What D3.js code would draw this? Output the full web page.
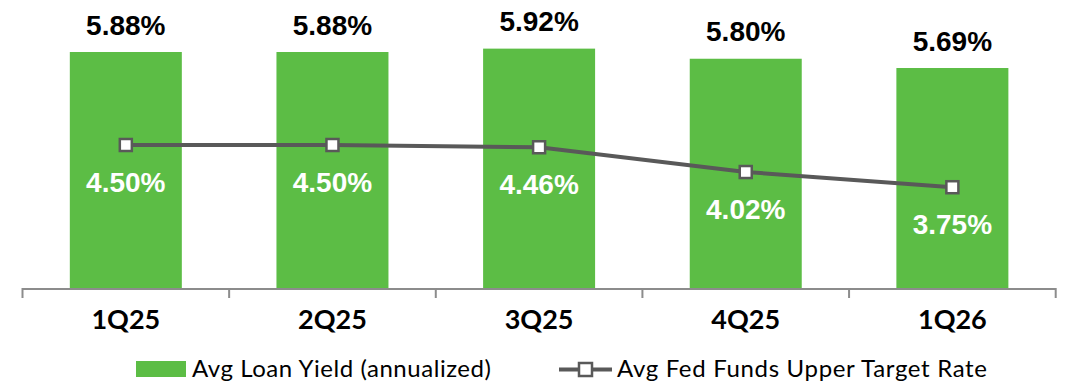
<!DOCTYPE html>
<html>
<head>
<meta charset="utf-8">
<script src="https://cdn.jsdelivr.net/npm/d3@7/dist/d3.min.js"></script>
<style>
  html, body { margin: 0; padding: 0; background: #ffffff; }
  svg { display: block; }
</style>
</head>
<body>
<svg id="chart" width="1071" height="384"></svg>
<script>
// Quarterly data
const quarters = ["1Q25", "2Q25", "3Q25", "4Q25", "1Q26"];
const loanYield = [5.88, 5.88, 5.92, 5.80, 5.69];      // Avg Loan Yield (annualized), %
const fedFunds = [4.50, 4.50, 4.46, 4.02, 3.75];       // Avg Fed Funds Upper Target Rate, %
const seriesNames = ["Avg Loan Yield (annualized)", "Avg Fed Funds Upper Target Rate"];

const svg = d3.select("#chart");
const green = "#5cbd45";
const gray = "#595959";
const axisGray = "#8c8c8c";

const x0 = 22.5, x1 = 1055.7, baseY = 288;
const pInner = 0.458;
const x = d3.scaleBand().domain(quarters).range([x0, x1])
  .paddingInner(pInner).paddingOuter(pInner / 2);

// Two value axes (bars and line use separate, hidden scales)
const yBar = d3.scaleLinear().domain([3.08, 5.88]).range([baseY, 52]);
const yLine = d3.scaleLinear().domain([1.96, 4.50]).range([baseY, 145]);

const fmt = v => v.toFixed(2) + "%";

// Bars
svg.append("g").selectAll("rect").data(quarters).join("rect")
  .attr("x", d => x(d))
  .attr("width", x.bandwidth())
  .attr("y", (d, i) => yBar(loanYield[i]))
  .attr("height", (d, i) => baseY - yBar(loanYield[i]))
  .attr("fill", green);

// Bar value labels
svg.append("g").selectAll("text").data(quarters).join("text")
  .attr("x", d => x(d) + x.bandwidth() / 2)
  .attr("y", (d, i) => yBar(loanYield[i]) - 17.5)
  .attr("text-anchor", "middle")
  .attr("font-family", "'Liberation Sans', Arial, sans-serif")
  .attr("font-weight", "bold")
  .attr("font-size", 28)
  .attr("fill", "#000")
  .text((d, i) => fmt(loanYield[i]));

// Category axis
const step = x.step();
const tickXs = quarters.map(d => x(d) - step * pInner / 2).concat([x1]);
const axis = svg.append("g");
axis.append("line")
  .attr("x1", x0).attr("x2", x1).attr("y1", baseY + 1).attr("y2", baseY + 1)
  .attr("stroke", axisGray).attr("stroke-width", 2);
axis.selectAll("line.tick").data(tickXs).join("line")
  .attr("class", "tick")
  .attr("x1", d => d).attr("x2", d => d)
  .attr("y1", baseY).attr("y2", baseY + 10)
  .attr("stroke", axisGray).attr("stroke-width", 2);
axis.selectAll("text").data(quarters).join("text")
  .attr("x", d => x(d) + x.bandwidth() / 2)
  .attr("y", 329)
  .attr("text-anchor", "middle")
  .attr("font-family", "Lato, 'Open Sans', sans-serif")
  .attr("font-weight", "bold")
  .attr("font-size", 27)
  .attr("fill", "#000")
  .text(d => d);

// Line series
const line = d3.line()
  .x((d, i) => x(quarters[i]) + x.bandwidth() / 2)
  .y(d => yLine(d));
svg.append("path").datum(fedFunds)
  .attr("d", line)
  .attr("fill", "none")
  .attr("stroke", gray)
  .attr("stroke-width", 4);

const ms = 12;
svg.append("g").selectAll("rect").data(fedFunds).join("rect")
  .attr("x", (d, i) => x(quarters[i]) + x.bandwidth() / 2 - ms / 2)
  .attr("y", d => yLine(d) - ms / 2)
  .attr("width", ms).attr("height", ms)
  .attr("fill", "#fff")
  .attr("stroke", gray)
  .attr("stroke-width", 2.5);

svg.append("g").selectAll("text").data(fedFunds).join("text")
  .attr("x", (d, i) => x(quarters[i]) + x.bandwidth() / 2)
  .attr("y", d => yLine(d) + 47)
  .attr("text-anchor", "middle")
  .attr("font-family", "'Liberation Sans', Arial, sans-serif")
  .attr("font-weight", "bold")
  .attr("font-size", 28)
  .attr("fill", "#fff")
  .text(d => fmt(d));

// Legend
const legend = svg.append("g")
  .attr("font-family", "Lato, 'Open Sans', sans-serif")
  .attr("font-size", 24)
  .attr("fill", "#000");
legend.append("rect")
  .attr("x", 136).attr("y", 361).attr("width", 50).attr("height", 16)
  .attr("fill", green);
legend.append("text").attr("x", 192).attr("y", 377)
  .attr("textLength", 299).attr("lengthAdjust", "spacing")
  .text(seriesNames[0]);
legend.append("line")
  .attr("x1", 559).attr("x2", 612).attr("y1", 369.5).attr("y2", 369.5)
  .attr("stroke", gray).attr("stroke-width", 4);
legend.append("rect")
  .attr("x", 579).attr("y", 363).attr("width", 13).attr("height", 13)
  .attr("fill", "#fff").attr("stroke", gray).attr("stroke-width", 2.5);
legend.append("text").attr("x", 617).attr("y", 377)
  .attr("textLength", 370).attr("lengthAdjust", "spacing")
  .text(seriesNames[1]);
</script>
</body>
</html>
